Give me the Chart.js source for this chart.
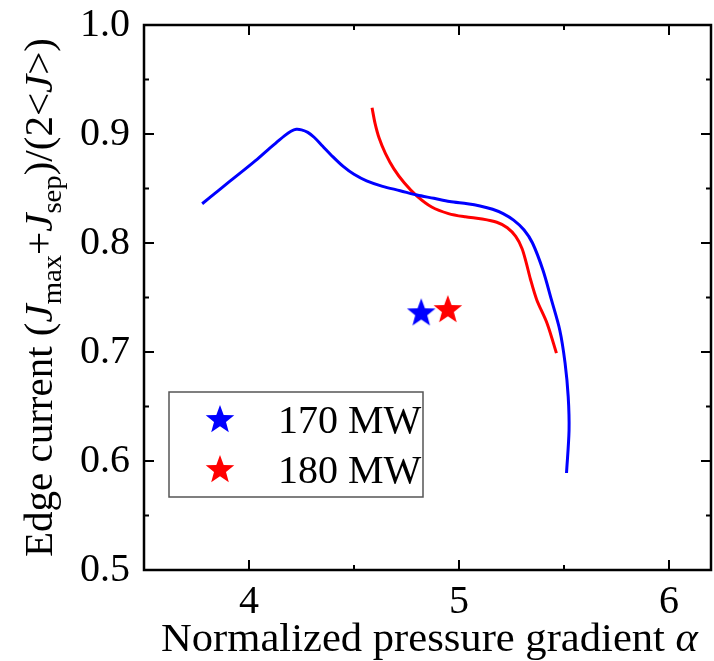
<!DOCTYPE html>
<html><head><meta charset="utf-8">
<script src="https://cdn.jsdelivr.net/npm/chart.js@4/dist/chart.umd.min.js"></script>
<style>html,body{margin:0;padding:0;background:#fff;overflow:hidden}</style>
</head><body>
<canvas id="c" width="714" height="661"></canvas>
<script>
// ---- data ----
const blueX = [3.777, 3.86, 3.95, 4.04, 4.09, 4.13, 4.17, 4.20, 4.225, 4.25, 4.28, 4.31, 4.35, 4.40, 4.45, 4.50, 4.56, 4.636, 4.72, 4.80, 4.88, 4.955, 5.04, 5.10, 5.16, 5.21, 5.26, 5.31, 5.35, 5.40, 5.44, 5.48, 5.505, 5.52, 5.524, 5.512];
const blueY = [0.836, 0.849, 0.863, 0.877, 0.8855, 0.892, 0.8985, 0.9025, 0.9043, 0.9038, 0.9015, 0.897, 0.889, 0.879, 0.870, 0.863, 0.857, 0.852, 0.848, 0.844, 0.841, 0.838, 0.836, 0.834, 0.831, 0.827, 0.821, 0.812, 0.800, 0.775, 0.748, 0.720, 0.690, 0.659, 0.628, 0.589];
const redX = [4.586, 4.60, 4.62, 4.65, 4.69, 4.74, 4.80, 4.87, 4.95, 5.03, 5.11, 5.18, 5.23, 5.27, 5.30, 5.32, 5.34, 5.37, 5.42, 5.464];
const redY = [0.924, 0.910, 0.896, 0.882, 0.868, 0.855, 0.843, 0.833, 0.827, 0.824, 0.822, 0.819, 0.814, 0.806, 0.795, 0.782, 0.767, 0.748, 0.726, 0.699];
const starLabels = ['170 MW', '180 MW'];
const starX = [4.82, 4.947];
const starY = [0.7355, 0.7385];
const xTicks = [4, 5, 6];
const xMinorTicks = [4.5, 5.5];
const yTicks = [0.5, 0.6, 0.7, 0.8, 0.9, 1.0];
const yMinorTicks = [0.55, 0.65, 0.75, 0.85, 0.95];
const xTitle = 'Normalized pressure gradient ';
const xTitleSymbol = 'α';

const FONT = "'Liberation Serif', 'DejaVu Serif', serif";
const FS = 40;

function makeStar(color, R) {
  const s = Math.ceil(2 * R + 4);
  const c = document.createElement('canvas');
  c.width = s; c.height = s;
  const g = c.getContext('2d');
  g.translate(s / 2, s / 2);
  g.beginPath();
  for (let i = 0; i < 10; i++) {
    const r = (i % 2) ? R * 0.42 : R;
    const a = -Math.PI / 2 + i * Math.PI / 5;
    const px = r * Math.cos(a), py = r * Math.sin(a);
    if (i === 0) g.moveTo(px, py); else g.lineTo(px, py);
  }
  g.closePath();
  g.fillStyle = color;
  g.fill();
  return c;
}
const starBlue = makeStar('#0000ff', 15);
const starRed = makeStar('#ff0000', 15);

const framePlugin = {
  id: 'frame',
  afterDraw(chart) {
    const ctx = chart.ctx, a = chart.chartArea;
    const xs = chart.scales.x, ys = chart.scales.y;
    ctx.save();
    ctx.strokeStyle = '#000';
    ctx.lineWidth = 2;
    ctx.beginPath();
    xTicks.forEach(v => { const p = xs.getPixelForValue(v); ctx.moveTo(p, a.bottom); ctx.lineTo(p, a.bottom - 10); ctx.moveTo(p, a.top); ctx.lineTo(p, a.top + 10); });
    xMinorTicks.forEach(v => { const p = xs.getPixelForValue(v); ctx.moveTo(p, a.bottom); ctx.lineTo(p, a.bottom - 5); ctx.moveTo(p, a.top); ctx.lineTo(p, a.top + 5); });
    yTicks.forEach(v => { const p = ys.getPixelForValue(v); ctx.moveTo(a.left, p); ctx.lineTo(a.left + 10, p); ctx.moveTo(a.right, p); ctx.lineTo(a.right - 10, p); });
    yMinorTicks.forEach(v => { const p = ys.getPixelForValue(v); ctx.moveTo(a.left, p); ctx.lineTo(a.left + 5, p); ctx.moveTo(a.right, p); ctx.lineTo(a.right - 5, p); });
    ctx.stroke();
    ctx.lineWidth = 2.5;
    ctx.strokeRect(a.left, a.top, a.right - a.left, a.bottom - a.top);
    ctx.restore();
  }
};

const titlePlugin = {
  id: 'titles',
  afterDraw(chart) {
    const ctx = chart.ctx, a = chart.chartArea;
    ctx.save();
    ctx.fillStyle = '#000';
    ctx.textBaseline = 'alphabetic';
    const fN = FS + 'px ' + FONT, fI = 'italic ' + FS + 'px ' + FONT;
    // x title (slightly widened to match reference)
    const SX = 1.065;
    ctx.font = fN; const w1 = ctx.measureText(xTitle).width;
    ctx.font = fI; const w2 = ctx.measureText(xTitleSymbol).width;
    const cxT = (a.left + a.right) / 2 + 2;
    const yb = a.bottom + 81;
    ctx.save();
    ctx.translate(cxT, yb);
    ctx.scale(SX, 1);
    const x0 = -(w1 + w2) / 2;
    ctx.font = fN; ctx.fillText(xTitle, x0, 0);
    ctx.font = fI; ctx.fillText(xTitleSymbol, x0 + w1, 0);
    ctx.restore();
    // y title with subscripts
    const SUB = 28;
    const segs = [
      { t: 'Edge current (', f: fN, dy: 0 },
      { t: 'J', f: fI, dy: 0 },
      { t: 'max', f: SUB + 'px ' + FONT, dy: 9 },
      { t: '+', f: fN, dy: 0 },
      { t: 'J', f: fI, dy: 0 },
      { t: 'sep', f: SUB + 'px ' + FONT, dy: 9 },
      { t: ')/(2<', f: fN, dy: 0 },
      { t: 'J', f: fI, dy: 0 },
      { t: '>)', f: fN, dy: 0 }
    ];
    let tot = 0;
    segs.forEach(s => { ctx.font = s.f; s.w = ctx.measureText(s.t).width; tot += s.w; });
    ctx.translate(52, (a.top + a.bottom) / 2);
    ctx.rotate(-Math.PI / 2);
    ctx.scale(1.025, 1);
    let cx = -tot / 2;
    segs.forEach(s => { ctx.font = s.f; ctx.fillText(s.t, cx, s.dy); cx += s.w; });
    ctx.restore();
  }
};

const legendPlugin = {
  id: 'boxLegend',
  afterDraw(chart) {
    const ctx = chart.ctx, a = chart.chartArea;
    const bx = a.left + 25, by = a.top + 367, bw = 254, bh = 105;
    ctx.save();
    ctx.fillStyle = '#fff';
    ctx.fillRect(bx, by, bw, bh);
    ctx.strokeStyle = '#555';
    ctx.lineWidth = 1.5;
    ctx.strokeRect(bx, by, bw, bh);
    const items = chart.data.datasets.filter(d => d.inLegend);
    items.forEach((d, i) => {
      const cy = by + 28 + i * 50;
      const img = d.pointStyle;
      ctx.drawImage(img, bx + 51 - img.width / 2, cy - img.height / 2);
      ctx.fillStyle = '#000';
      ctx.font = FS + 'px ' + FONT;
      ctx.textBaseline = 'alphabetic';
      ctx.fillText(d.label, bx + 109, cy + 13);
    });
    ctx.restore();
  }
};

function zeroPad(s) { s.paddingTop = 0; s.paddingBottom = 0; s.paddingLeft = 0; s.paddingRight = 0; }

function draw() {
  new Chart(document.getElementById('c'), {
    type: 'scatter',
    data: {
      datasets: [
        { label: 'blue', data: blueX.map((x, i) => ({ x, y: blueY[i] })), showLine: true, borderColor: '#0000ff', borderWidth: 3, pointRadius: 0, tension: 0.3, fill: false },
        { label: 'red', data: redX.map((x, i) => ({ x, y: redY[i] })), showLine: true, borderColor: '#ff0000', borderWidth: 3, pointRadius: 0, tension: 0.3, fill: false },
        { label: starLabels[0], data: [{ x: starX[0], y: starY[0] }], showLine: false, pointStyle: starBlue, pointRadius: 15, inLegend: true },
        { label: starLabels[1], data: [{ x: starX[1], y: starY[1] }], showLine: false, pointStyle: starRed, pointRadius: 15, inLegend: true }
      ]
    },
    options: {
      responsive: false,
      animation: false,
      devicePixelRatio: 1,
      layout: { autoPadding: false, padding: { top: 25, right: 3, left: 0, bottom: 0 } },
      plugins: { legend: { display: false }, tooltip: { enabled: false } },
      scales: {
        x: {
          type: 'linear', min: 3.5, max: 6.2,
          afterFit(s) { s.height = 91; zeroPad(s); },
          afterBuildTicks(s) { s.ticks = xTicks.map(v => ({ value: v })); },
          grid: { display: false, drawTicks: false },
          border: { display: false },
          ticks: { color: '#000', font: { family: FONT, size: FS }, padding: 8, maxRotation: 0, callback: v => String(v) }
        },
        y: {
          type: 'linear', min: 0.5, max: 1.0,
          afterFit(s) { s.width = 144; zeroPad(s); },
          afterBuildTicks(s) { s.ticks = yTicks.map(v => ({ value: v })); },
          grid: { display: false, drawTicks: false },
          border: { display: false },
          ticks: { color: '#000', font: { family: FONT, size: FS }, padding: 14, callback: v => v.toFixed(1) }
        }
      }
    },
    plugins: [framePlugin, titlePlugin, legendPlugin]
  });
}
if (document.fonts && document.fonts.load) {
  Promise.all([
    document.fonts.load("40px 'Liberation Serif'"),
    document.fonts.load("italic 40px 'Liberation Serif'")
  ]).then(draw, draw);
} else { draw(); }
</script>
</body></html>
